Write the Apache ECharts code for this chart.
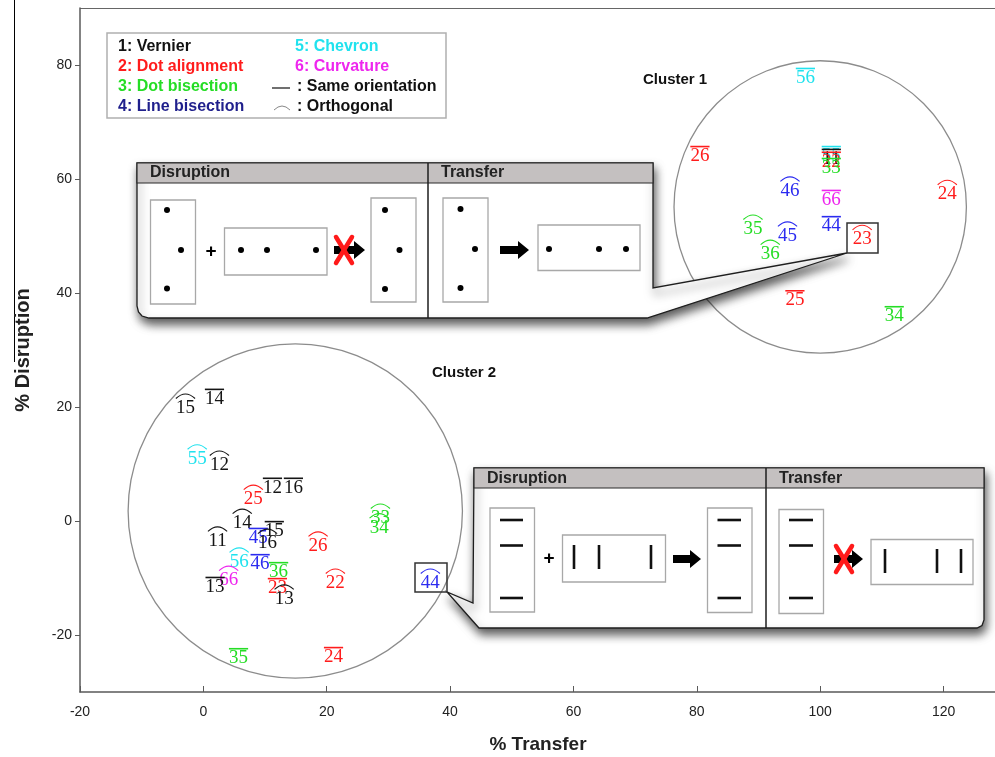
<!DOCTYPE html>
<html>
<head>
<meta charset="utf-8">
<script src="https://cdn.jsdelivr.net/npm/echarts@6/dist/echarts.min.js"></script>
<style>
  html, body { margin: 0; padding: 0; background: #fff; }
  #chart { width: 995px; height: 757px; }
</style>
</head>
<body>
<div id="chart"></div>
<script>
// Task pairs (trained task digit, tested task digit): 1 Vernier, 2 Dot alignment,
// 3 Dot bisection, 4 Line bisection, 5 Chevron, 6 Curvature.
const pairLabels = [
  // cluster 1
  '56', '26', '55', '11', '22', '33', '46', '66', '24', '35', '45', '44', '23', '36', '25', '34',
  // cluster 2
  '15', '14', '55', '12', '12', '16', '25', '14', '33', '34', '15', '45', '16',
  '11', '26', '56', '46', '36', '66', '13', '23', '13', '22', '44', '35', '24'
];
// 'same' = same orientation (overline), 'orth' = orthogonal (arc)
const orientation = [
  'same', 'same', 'same', 'same', 'same', 'same', 'orth', 'same', 'orth', 'orth', 'orth', 'same', 'orth', 'orth', 'same', 'same',
  'orth', 'same', 'orth', 'orth', 'same', 'same', 'orth', 'orth', 'orth', 'orth', 'same', 'same', 'orth',
  'orth', 'orth', 'orth', 'same', 'same', 'orth', 'same', 'same', 'orth', 'orth', 'orth', 'same', 'same'
];
const transferPct = [
  97.6, 80.5, 101.8, 101.8, 101.8, 101.8, 95.1, 101.8, 120.6, 89.1, 94.7, 101.8, 106.8, 91.9, 95.9, 112.0,
  -2.9, 1.8, -1.0, 2.6, 11.2, 14.6, 8.1, 6.3, 28.7, 28.5, 11.5, 8.9, 10.4,
  2.3, 18.6, 5.8, 9.2, 12.2, 4.1, 1.9, 12.0, 13.1, 21.4, 36.8, 5.7, 21.1
];
const disruptionPct = [
  77.9, 64.2, 64.2, 63.7, 63.2, 62.1, 58.1, 56.5, 57.5, 51.4, 50.2, 51.9, 49.6, 47.0, 38.9, 36.1,
  20.0, 21.6, 11.1, 10.0, 6.0, 6.0, 4.0, -0.2, 0.7, -1.0, -1.6, -2.8, -3.7,
  -3.3, -4.2, -7.0, -7.4, -8.8, -10.2, -11.4, -11.6, -13.5, -10.7, -10.7, -23.9, -23.7
];

// Cluster outlines (centre in data units, radius in % Transfer units)
const clusterCenterTransfer = [100.0, 14.9];
const clusterCenterDisruption = [55.1, 1.75];
const clusterRadius = [23.7, 27.1];

// Axis ticks
const transferTicks = [-20, 0, 20, 40, 60, 80, 100, 120];
const disruptionTicks = [-20, 0, 20, 40, 60, 80];

const taskColors = {
  '1': '#151515', '2': '#ff1c1c', '3': '#25dd25',
  '4': '#2b2bf0', '5': '#20e2ee', '6': '#ee26ee'
};
const SANS = '"Liberation Sans", Arial, sans-serif';
const SERIF = '"Liberation Serif", "DejaVu Serif", serif';

function renderPair(params, api) {
  const i = params.dataIndex;
  const p = api.coord([api.value(0), api.value(1)]);
  const text = pairLabels[i];
  const color = taskColors[text[0]];
  const w = text.length * 9.6;
  const children = [{
    type: 'text',
    style: { x: p[0], y: p[1] + 1, text: text, fill: color, font: '19px ' + SERIF, align: 'center', verticalAlign: 'middle' }
  }];
  if (orientation[i] === 'same') {
    children.push({
      type: 'line',
      shape: { x1: p[0] - w / 2, y1: p[1] - 8.5, x2: p[0] + w / 2, y2: p[1] - 8.5 },
      style: { stroke: color, lineWidth: 1.6 }
    });
  } else {
    children.push({
      type: 'bezierCurve',
      shape: { x1: p[0] - w / 2, y1: p[1] - 8.5, cpx1: p[0], cpy1: p[1] - 17.5, x2: p[0] + w / 2, y2: p[1] - 8.5 },
      style: { stroke: color, lineWidth: 1.1, fill: null }
    });
  }
  return { type: 'group', children: children };
}

function renderCluster(params, api) {
  const c = api.coord([api.value(0), api.value(1)]);
  const r = api.size([api.value(2), 0])[0];
  return {
    type: 'circle',
    shape: { cx: c[0], cy: c[1], r: r },
    style: { fill: null, stroke: '#8c8c8c', lineWidth: 1.3 }
  };
}

// ---- drawing helpers for the legend and callout illustrations ----
function txt(x, y, s, color, font, align) {
  return { type: 'text', z: 20, style: { x: x, y: y, text: s, fill: color, font: font, align: align || 'left', verticalAlign: 'middle' } };
}
function frame(x1, y1, x2, y2) {
  return { type: 'rect', z: 20, shape: { x: x1, y: y1, width: x2 - x1, height: y2 - y1 }, style: { fill: null, stroke: '#a8a8a8', lineWidth: 1.3 } };
}
function dot(x, y) {
  return { type: 'circle', z: 20, shape: { cx: x, cy: y, r: 3 }, style: { fill: '#000' } };
}
function seg(x1, y1, x2, y2, color, width) {
  return { type: 'line', z: 20, shape: { x1: x1, y1: y1, x2: x2, y2: y2 }, style: { stroke: color || '#000', lineWidth: width || 1 } };
}
function arrow(x1, x2, y) {
  const hl = 11, sh = 4, hh = 9;
  return {
    type: 'polygon', z: 20,
    shape: { points: [[x1, y - sh], [x2 - hl, y - sh], [x2 - hl, y - hh], [x2, y], [x2 - hl, y + hh], [x2 - hl, y + sh], [x1, y + sh]] },
    style: { fill: '#000' }
  };
}
function cross(cx, cy) {
  return [
    { type: 'line', z: 21, shape: { x1: cx - 8, y1: cy - 13, x2: cx + 8, y2: cy + 13 }, style: { stroke: '#ff1a1a', lineWidth: 4.5, lineCap: 'round' } },
    { type: 'line', z: 21, shape: { x1: cx + 8, y1: cy - 13, x2: cx - 8, y2: cy + 13 }, style: { stroke: '#ff1a1a', lineWidth: 4.5, lineCap: 'round' } }
  ];
}
function plus(x, y) {
  return txt(x, y, '+', '#000', 'bold 19px ' + SANS, 'center');
}
function body(points) {
  return {
    type: 'polygon', z: 15,
    shape: { points: points },
    style: { fill: '#fff', stroke: '#1e1e1e', lineWidth: 1.3, shadowBlur: 10, shadowColor: 'rgba(0,0,0,0.65)', shadowOffsetX: 2, shadowOffsetY: 6 }
  };
}
function header(x1, y1, x2, y2) {
  return { type: 'rect', z: 16, shape: { x: x1, y: y1, width: x2 - x1, height: y2 - y1 }, style: { fill: '#c4c0c0', stroke: '#2a2a2a', lineWidth: 1.2 } };
}

const legendFont = 'bold 16px ' + SANS;
const headFont = 'bold 16px ' + SANS;
const clusterFont = 'bold 15px ' + SANS;

const elements = [
  // stray rule beside the vertical axis title
  { type: 'line', shape: { x1: 14.5, y1: 0, x2: 14.5, y2: 362 }, style: { stroke: '#000', lineWidth: 1 } },
  // top frame of the plot area
  { type: 'line', shape: { x1: 80, y1: 8.5, x2: 995, y2: 8.5 }, style: { stroke: '#666', lineWidth: 1.2 } },

  // legend
  { type: 'rect', z: 20, shape: { x: 107, y: 33, width: 339, height: 85 }, style: { fill: '#fff', stroke: '#b0b0b0', lineWidth: 1.5 } },
  txt(118, 47, '1: Vernier', '#111', legendFont),
  txt(118, 67, '2: Dot alignment', '#ff1c1c', legendFont),
  txt(118, 87, '3: Dot bisection', '#25dd25', legendFont),
  txt(118, 107, '4: Line bisection', '#1f1f8c', legendFont),
  txt(295, 47, '5: Chevron', '#20e2ee', legendFont),
  txt(295, 67, '6: Curvature', '#ee26ee', legendFont),
  seg(272, 88, 290, 88, '#222', 1.3),
  txt(297, 87, ': Same orientation', '#111', legendFont),
  { type: 'bezierCurve', z: 20, shape: { x1: 274, y1: 110, cpx1: 282, cpy1: 102, x2: 290, y2: 110 }, style: { stroke: '#888', lineWidth: 1, fill: null } },
  txt(297, 107, ': Orthogonal', '#111', legendFont),

  // cluster titles
  txt(643, 80, 'Cluster 1', '#111', clusterFont),
  txt(432, 373, 'Cluster 2', '#111', clusterFont),

  // ---- callout for cluster 1 (dot stimuli) ----
  body([[137, 163], [653, 163], [653, 288], [847, 253], [647, 318], [149, 318], [142, 316], [138.5, 312], [137, 306]]),
  header(137, 163, 653, 183),
  seg(428, 163, 428, 318, '#1e1e1e', 1.5),
  txt(150, 173, 'Disruption', '#222', headFont),
  txt(441, 173, 'Transfer', '#222', headFont),
  frame(150.5, 200, 195.5, 304),
  dot(167, 210), dot(181, 250), dot(167, 288.5),
  plus(211, 252),
  frame(224.5, 228, 327, 275),
  dot(241, 250), dot(267, 250), dot(316, 250),
  arrow(334, 365, 250),
  ...cross(344, 250),
  frame(371, 198, 416, 302),
  dot(385, 210), dot(399.5, 250), dot(385, 289),
  frame(443, 198, 488, 302),
  dot(460.5, 209), dot(475, 249), dot(460.5, 288),
  arrow(500, 529, 250),
  frame(538, 225, 640, 270.5),
  dot(549, 249), dot(599, 249), dot(626, 249),
  { type: 'rect', z: 20, shape: { x: 847, y: 223, width: 31, height: 30 }, style: { fill: null, stroke: '#333', lineWidth: 1.5 } },

  // ---- callout for cluster 2 (line stimuli) ----
  body([[474, 468], [984, 468], [984, 620], [982, 625.5], [977, 628], [479, 628], [447, 592], [473, 603]]),
  header(474, 468, 984, 488),
  seg(766, 468, 766, 628, '#1e1e1e', 1.5),
  txt(487, 479, 'Disruption', '#222', headFont),
  txt(779, 479, 'Transfer', '#222', headFont),
  frame(490, 508, 534.5, 612),
  seg(500, 520, 523, 520, '#111', 2.6), seg(500, 545.5, 523, 545.5, '#111', 2.6), seg(500, 598, 523, 598, '#111', 2.6),
  plus(549, 559),
  frame(562.5, 535, 665.5, 582),
  seg(574, 545, 574, 569, '#111', 2.6), seg(599, 545, 599, 569, '#111', 2.6), seg(651, 545, 651, 569, '#111', 2.6),
  arrow(673, 701, 559),
  frame(707.5, 508, 752, 612.5),
  seg(717.5, 520, 741, 520, '#111', 2.6), seg(717.5, 545.5, 741, 545.5, '#111', 2.6), seg(717.5, 598, 741, 598, '#111', 2.6),
  frame(779, 509.5, 823.5, 613.5),
  seg(789, 520, 813, 520, '#111', 2.6), seg(789, 545.5, 813, 545.5, '#111', 2.6), seg(789, 598, 813, 598, '#111', 2.6),
  arrow(834, 863, 559),
  ...cross(844, 559),
  frame(871, 539.5, 973, 584.5),
  seg(885, 549, 885, 573, '#111', 2.6), seg(937, 549, 937, 573, '#111', 2.6), seg(961, 549, 961, 573, '#111', 2.6),
  { type: 'rect', z: 20, shape: { x: 415, y: 563, width: 32, height: 29 }, style: { fill: null, stroke: '#333', lineWidth: 1.5 } }
];

const chart = echarts.init(document.getElementById('chart'), null, { renderer: 'canvas' });

chart.setOption({
  backgroundColor: '#fff',
  animation: false,
  grid: { left: 80, right: -1, top: 8, bottom: 65, outerBoundsMode: 'none' },
  xAxis: {
    type: 'value', min: -20, max: 128.5,
    name: '% Transfer', nameLocation: 'middle', nameGap: 43,
    nameTextStyle: { fontFamily: SANS, fontWeight: 'bold', fontSize: 19, color: '#222' },
    axisLine: { onZero: false, lineStyle: { color: '#5a5a5a', width: 1.5 } },
    axisTick: { inside: true, length: 6, lineStyle: { color: '#5a5a5a' }, customValues: transferTicks },
    axisLabel: { customValues: transferTicks, margin: 13, fontSize: 14, color: '#222', fontFamily: SANS },
    splitLine: { show: false }
  },
  yAxis: {
    type: 'value', min: -30, max: 90,
    name: '% Disruption', nameLocation: 'middle', nameGap: 47,
    nameTextStyle: { fontFamily: SANS, fontWeight: 'bold', fontSize: 20, color: '#222' },
    axisLine: { onZero: false, lineStyle: { color: '#5a5a5a', width: 1.5 } },
    axisTick: { length: 5, lineStyle: { color: '#5a5a5a' }, customValues: disruptionTicks },
    axisLabel: { customValues: disruptionTicks, margin: 8, fontSize: 14, color: '#222', fontFamily: SANS },
    splitLine: { show: false }
  },
  series: [
    {
      type: 'custom',
      name: 'clusters',
      renderItem: renderCluster,
      clip: false,
      z: 1,
      data: clusterCenterTransfer.map((x, i) => [x, clusterCenterDisruption[i], clusterRadius[i]])
    },
    {
      type: 'custom',
      name: 'pairs',
      renderItem: renderPair,
      clip: false,
      z: 5,
      encode: { x: 0, y: 1 },
      data: transferPct.map((x, i) => [x, disruptionPct[i]])
    }
  ],
  graphic: { elements: elements }
});
</script>
</body>
</html>
